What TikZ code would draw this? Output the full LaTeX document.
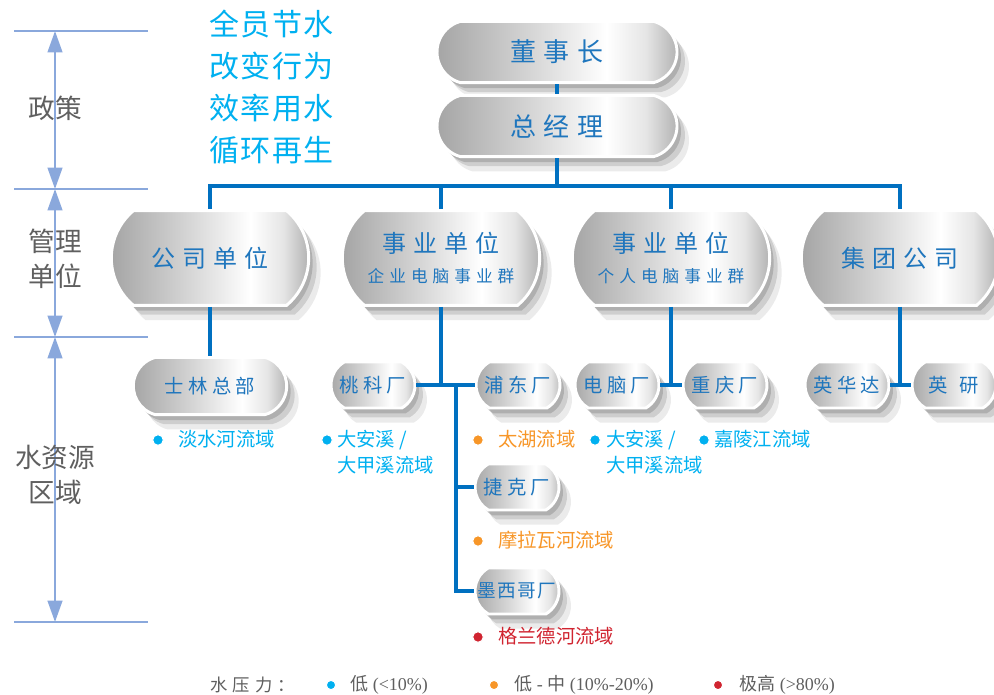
\documentclass[tikz,border=0pt]{standalone}
\usepackage{fontspec}
\setmainfont{Liberation Serif}
\newfontfamily\cjk{Noto Sans CJK SC}
\newfontfamily\cjkwide{Noto Sans CJK SC}[LetterSpace=30]
\newfontfamily\cjksite{Noto Sans CJK SC}[LetterSpace=22]
\newfontfamily\cjknarrow{Noto Sans CJK SC}[LetterSpace=6]
\newfontfamily\cjkmotto{Noto Sans CJK SC}[LetterSpace=5]
\usetikzlibrary{shapes.misc, arrows.meta, positioning, shadows, calc}

\definecolor{busblue}{RGB}{0,112,192}
\definecolor{textblue}{RGB}{31,118,189}
\definecolor{axisblue}{RGB}{138,168,220}
\definecolor{lowcyan}{RGB}{0,176,240}
\definecolor{midorange}{RGB}{247,150,40}
\definecolor{highred}{RGB}{208,36,48}
\definecolor{labelgrey}{RGB}{95,95,95}

\pgfdeclarehorizontalshading{chrome}{100bp}{color(0bp)=(black!36); color(25bp)=(black!36);
  color(45bp)=(black!16); color(60bp)=(white); color(68bp)=(black!10); color(75bp)=(black!32); color(100bp)=(black!32)}

\begin{document}
\begin{tikzpicture}[
  x=0.75pt, y=-0.75pt,
  chip/.style={rounded rectangle, rounded rectangle arc length=150, shading=chrome, draw=white, line width=2.2pt,
    drop shadow={shadow xshift=9pt, shadow yshift=-11pt, opacity=0.08, fill=black},
    drop shadow={shadow xshift=6pt, shadow yshift=-7pt, opacity=0.12, fill=black},
    drop shadow={shadow xshift=3pt, shadow yshift=-4pt, opacity=0.15, fill=black},
    text=textblue, align=center, inner sep=0pt},
  headbox/.style={chip, minimum width=180pt, minimum height=46pt, font=\cjkwide\fontsize{19.5}{23}\selectfont},
  unitbox/.style={chip, rounded rectangle arc length=100, minimum width=148pt, minimum height=71pt, font=\cjkwide\fontsize{18}{22}\selectfont},
  sitebox/.style={chip, rounded rectangle arc length=120, minimum width=63pt, minimum height=34.5pt, font=\cjksite\fontsize{14.5}{17}\selectfont},
  bus/.style={draw=busblue, line width=3pt},
  axis/.style={draw=axisblue, line width=1.6pt},
  span/.style={axis, {Triangle[length=16pt,width=11pt]}-{Triangle[length=16pt,width=11pt]}},
  dot/.style={circle, fill=#1, draw=white, line width=0.8pt, minimum size=8pt, inner sep=0pt},
  basin/.style={anchor=north west, font=\cjk\fontsize{14.5}{19.5}\selectfont, text=#1, align=left, inner sep=0pt},
  tier/.style={font=\cjk\fontsize{20}{26}\selectfont, text=labelgrey, align=center, inner sep=0pt},
  keytext/.style={anchor=west, font=\fontsize{13.5}{15}\selectfont, text=labelgrey, inner sep=0pt},
]
  \useasboundingbox (0,0) rectangle (994,694);

  % ── Tier axis ──────────────────────────────
  \foreach \yy/\nm in {31/a0, 189/a1, 337/a2, 622/a3} {
    \draw[axis] (14,\yy) -- (148,\yy);
    \coordinate (\nm) at (55,\yy);
  }
  \draw[span] (a0) -- (a1);
  \draw[span] (a1) -- (a2);
  \draw[span] (a2) -- (a3);
  \node[tier] (policy) at (55,108) {政策};
  \node[tier] (mgmt) at (55,259) {管理\\单位};
  \node[tier] (water) at (55,475) {水资源\\区域};

  % ── Motto ──────────────────────────────────
  \node[anchor=north west, font=\cjkmotto\fontsize{22.5}{31.5}\selectfont, text=lowcyan, align=left, inner sep=0pt]
    (motto) at (209,10) {全员节水\\改变行为\\效率用水\\循环再生};

  % ── Board ──────────────────────────────────
  \node[headbox] (chair) at (557,52) {董事长};
  \node[headbox] (gm) at (557,126) {总经理};

  % ── Units ──────────────────────────────────
  \node[unitbox] (u1) at (210,258) {公司单位};
  \node[unitbox] (u2) at (441,258) {事业单位\\[1pt]{\fontsize{12.5}{15}\selectfont 企业电脑事业群}};
  \node[unitbox] (u3) at (671,258) {事业单位\\[1pt]{\fontsize{12.5}{15}\selectfont 个人电脑事业群}};
  \node[unitbox] (u4) at (900,258) {集团公司};

  % ── Sites ──────────────────────────────────
  \node[sitebox, minimum width=115pt, minimum height=43pt, rounded rectangle arc length=150] (sl) at (210,386) {士林总部};
  \node[sitebox] (tk) at (373,385) {桃科厂};
  \node[sitebox] (pd) at (518,385) {浦东厂};
  \node[sitebox] (jk) at (517,487) {捷克厂};
  \node[sitebox, font=\cjknarrow\fontsize{14}{17}\selectfont] (mx) at (517,591) {墨西哥厂};
  \node[sitebox] (pc) at (617,385) {电脑厂};
  \node[sitebox] (cq) at (725,385) {重庆厂};
  \node[sitebox] (yh) at (847,385) {英华达};
  \node[sitebox] (yy) at (954,385) {英\hspace{0.6em}研};

  % ── Connections ────────────────────────────
  \draw[bus] (chair.south) -- (gm.north);
  \path (gm.south) -- (gm.south |- u1.north) coordinate[pos=0.55] (fork);
  \draw[bus] (gm.south) -- (fork);
  \draw[bus] (u1.north) |- (fork) -| (u4.north);
  \draw[bus] (u2.north) -- (u2.north |- fork);
  \draw[bus] (u3.north) -- (u3.north |- fork);
  \draw[bus] (u1.south) -- (sl.north);
  \draw[bus] (u2.south) -- (u2.south |- tk.east);
  \draw[bus] (tk.east) -- (pd.west);
  \coordinate (spine) at ($(tk.east)!0.68!(pd.west)$);
  \draw[bus] (spine) |- (jk.west);
  \draw[bus] (spine) |- (mx.west);
  \draw[bus] (u3.south) -- (u3.south |- pc.east);
  \draw[bus] (pc.east) -- (cq.west);
  \draw[bus] (u4.south) -- (u4.south |- yh.east);
  \draw[bus] (yh.east) -- (yy.west);

  % ── Basins ─────────────────────────────────
  \node[dot=lowcyan] (b1) at (158,440) {};
  \node[basin=lowcyan] (t1) at (178,430) {淡水河流域};
  \node[dot=lowcyan] (b2) at (327,440) {};
  \node[basin=lowcyan] (t2) at (337,430) {大安溪 /\\大甲溪流域};
  \node[dot=midorange] (b3) at (478,440) {};
  \node[basin=midorange] (t3) at (498,430) {太湖流域};
  \node[dot=lowcyan] (b4) at (595,440) {};
  \node[basin=lowcyan] (t4) at (606,430) {大安溪 /\\大甲溪流域};
  \node[dot=lowcyan] (b5) at (704,440) {};
  \node[basin=lowcyan] (t5) at (714,430) {嘉陵江流域};
  \node[dot=midorange] (b6) at (478,541) {};
  \node[basin=midorange] (t6) at (498,531) {摩拉瓦河流域};
  \node[dot=highred] (b7) at (478,637) {};
  \node[basin=highred] (t7) at (498,627) {格兰德河流域};

  % ── Legend ─────────────────────────────────
  \node[keytext, font=\cjkwide\fontsize{13}{15}\selectfont] (key) at (210,685) {水压力：};
  \node[dot=lowcyan, minimum size=7pt] (k1) at (331,685) {};
  \node[keytext] (k1t) at (350,685) {{\cjk 低} (<10\%)};
  \node[dot=midorange, minimum size=7pt] (k2) at (494,685) {};
  \node[keytext] (k2t) at (514,685) {{\cjk 低} - {\cjk 中} (10\%-20\%)};
  \node[dot=highred, minimum size=7pt] (k3) at (718,685) {};
  \node[keytext] (k3t) at (739,685) {{\cjk 极高} (>80\%)};
\end{tikzpicture}
\end{document}
